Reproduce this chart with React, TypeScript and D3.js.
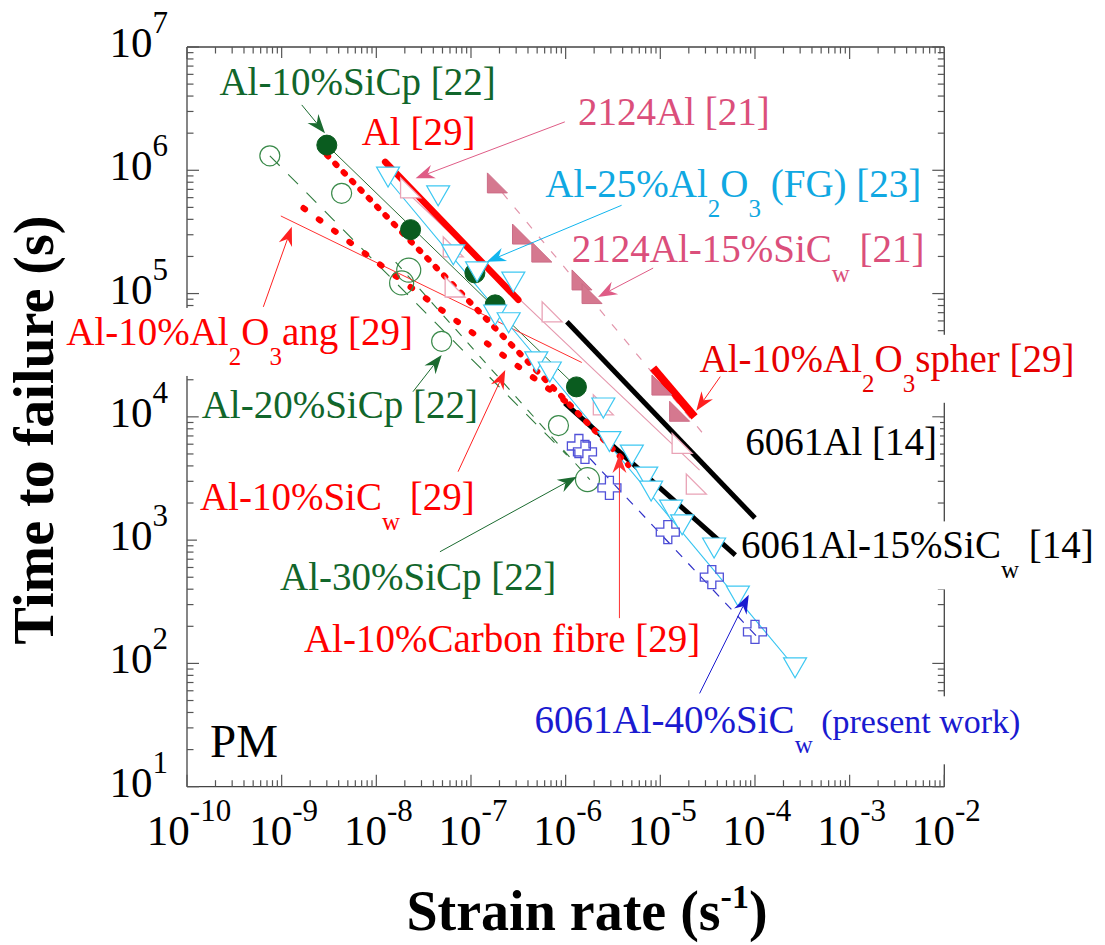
import React, { useEffect, useRef } from 'react'
import * as d3 from 'd3'

const FONT = '"Liberation Serif", "Times New Roman", Times, serif'

// strain rate (s^-1) / time to failure (s)
const sicp10Rate = [3.0e-9, 2.3e-8, 1.1e-7, 1.8e-7, 1.3e-6]
const sicp10Time = [1.6e6, 3.3e5, 1.47e5, 8.1e4, 1.75e4]

const sicp20Rate = [7.5e-10, 4.3e-9, 4.9e-8, 8.4e-7]
const sicp20Time = [1.31e6, 6.5e5, 4.1e4, 8.5e3]
const sicp20FitRate = [7.5e-10, 1.03e-6]
const sicp20FitTime = [1.31e6, 4.9e3]

const sicp30Rate = [2.2e-8, 1.85e-8, 1.7e-6]
const sicp30Time = [1.55e5, 1.22e5, 3.1e3]
const sicp30FitRate = [1.6e-8, 1.8e-6]
const sicp30FitTime = [1.8e5, 3.1e3]

const alFitRate = [1.24e-8, 3.16e-7]
const alFitTime = [1.17e6, 8.9e4]

const spherFitRate = [8.4e-6, 2.3e-5]
const spherFitTime = [2.49e4, 1.0e4]

const angFitRate = [9.8e-10, 1.48e-6]
const angFitTime = [4.26e5, 2.76e4]

const sicwFitRate = [1.7e-9, 1.06e-6]
const sicwFitTime = [4.94e5, 1.29e4]

const carbonFitRate = [3.0e-9, 4.6e-6]
const carbonFitTime = [1.33e6, 4.06e3]

const al6061FitRate = [1.03e-6, 1.0e-4]
const al6061FitTime = [5.9e4, 1.51e3]

const al6061SicFitRate = [9.8e-7, 6.2e-5]
const al6061SicFitTime = [1.29e4, 757]

const al2124Rate = [2.3e-8, 6.5e-8, 6.8e-8, 7.2e-7, 2.5e-6, 1.7e-5, 2.4e-5]
const al2124Time = [7.2e5, 2.39e5, 1.13e5, 7.1e4, 1.25e4, 6.1e3, 2.85e3]
const al2124FitRate = [2.0e-8, 2.6e-5]
const al2124FitTime = [6.9e5, 3.7e3]

const al2124SicRate = [1.9e-7, 3.5e-7, 5.6e-7, 1.49e-6, 1.9e-6, 1.04e-5, 1.6e-5]
const al2124SicTime = [7.9e5, 3.04e5, 2.17e5, 1.29e5, 1.0e5, 1.81e4, 1.11e4]
const al2124SicFitRate = [1.6e-7, 2.75e-5]
const al2124SicFitTime = [8.6e5, 7.5e3]

const fgRate = [1.33e-8, 4.5e-8, 6.5e-8, 1.16e-7, 2.8e-7, 1.8e-7, 2.5e-7, 4.9e-7, 6.8e-7, 2.5e-6,
  2.9e-6, 5.0e-6, 7.1e-6, 8.0e-6, 1.3e-5, 1.7e-5, 3.7e-5, 6.6e-5, 2.65e-4]
const fgTime = [8.8e5, 6.2e5, 2.06e5, 1.5e5, 1.24e5, 6.7e4, 5.8e4, 2.79e4, 2.31e4, 1.18e4,
  6.3e3, 4.9e3, 3.25e3, 2.5e3, 1.75e3, 1.33e3, 863, 352, 92]
const fgFitRate = [1.4e-8, 2.8e-4]
const fgFitTime = [8.0e5, 88]

const presentRate = [1.38e-6, 1.6e-6, 2.9e-6, 1.2e-5, 3.5e-5, 1.0e-4]
const presentTime = [5.8e3, 5.2e3, 2.65e3, 1.16e3, 502, 180]
const presentFitRate = [1.8e-6, 1.13e-4]
const presentFitTime = [4.6e3, 155]

const xDecades = [-10, -9, -8, -7, -6, -5, -4, -3, -2]
const yDecades = [1, 2, 3, 4, 5, 6, 7]

const GREEN = '#11662b'
const RED = '#ff0000'
const PINK = '#db4f7b'
const CYAN = '#10a8e2'
const BLUE = '#1a1ad0'

type Part = { t: string, sub?: boolean, size?: number }

// annotation text, anchored (left, baseline) in data units
const labels: { parts: Part[], rate: number, time: number, color: string, size?: number }[] = [
  { parts: [{ t: 'Al-10%SiCp [22]' }], rate: 2.2e-10, time: 4.08e6, color: GREEN },
  { parts: [{ t: 'Al [29]' }], rate: 7.0e-9, time: 1.6e6, color: RED },
  { parts: [{ t: '2124Al [21]' }], rate: 1.35e-6, time: 2.33e6, color: PINK },
  { parts: [{ t: 'Al-25%Al' }, { t: '2', sub: true }, { t: 'O' }, { t: '3', sub: true }, { t: ' (FG) [23]' }], rate: 6.1e-7, time: 6.1e5, color: CYAN },
  { parts: [{ t: '2124Al-15%SiC' }, { t: 'w', sub: true }, { t: ' [21]' }], rate: 1.16e-6, time: 1.81e5, color: PINK },
  { parts: [{ t: 'Al-10%Al' }, { t: '2', sub: true }, { t: 'O' }, { t: '3', sub: true }, { t: 'ang [29]' }], rate: 5.3e-12, time: 3.83e4, color: RED },
  { parts: [{ t: 'Al-10%Al' }, { t: '2', sub: true }, { t: 'O' }, { t: '3', sub: true }, { t: 'spher [29]' }], rate: 2.6e-5, time: 2.32e4, color: '#e60000' },
  { parts: [{ t: 'Al-20%SiCp [22]' }], rate: 1.43e-10, time: 9.7e3, color: GREEN },
  { parts: [{ t: 'Al-10%SiC' }, { t: 'w', sub: true }, { t: ' [29]' }], rate: 1.37e-10, time: 1.75e3, color: RED },
  { parts: [{ t: '6061Al [14]' }], rate: 7.9e-5, time: 4.93e3, color: '#000' },
  { parts: [{ t: '6061Al-15%SiC' }, { t: 'w', sub: true }, { t: ' [14]' }], rate: 7.1e-5, time: 711, color: '#000' },
  { parts: [{ t: 'Al-30%SiCp [22]' }], rate: 9.6e-10, time: 394, color: GREEN },
  { parts: [{ t: 'Al-10%Carbon fibre [29]' }], rate: 1.72e-9, time: 124, color: RED },
  { parts: [{ t: '6061Al-40%SiC' }, { t: 'w', sub: true }, { t: ' (present work)', size: 34 }], rate: 4.7e-7, time: 27.1, color: BLUE },
  { parts: [{ t: 'PM' }], rate: 1.75e-10, time: 17.5, color: '#000', size: 47 },
]

const arrows = [
  { from: [1.63e-9, 3.39e6], to: [2.87e-9, 2.0e6], color: '#1b6b30' },
  { from: [9.8e-7, 2.47e6], to: [2.6e-8, 8.6e5], color: '#df5c86' },
  { from: [3.9e-6, 5.2e5], to: [1.47e-7, 1.81e5], color: '#10b5ee' },
  { from: [8.4e-6, 1.61e5], to: [2.2e-6, 9.4e4], color: '#df5c86' },
  { from: [6.4e-10, 7.8e4], to: [1.28e-9, 3.48e5], color: '#ff2020' },
  { from: [4.3e-5, 2.12e4], to: [2.4e-5, 1.12e4], color: '#ff2020' },
  { from: [2.44e-8, 1.6e4], to: [4.9e-8, 3.18e4], color: '#1b6b30' },
  { from: [7.3e-8, 3.59e3], to: [2.3e-7, 2.4e4], color: '#ff2020' },
  { from: [4.7e-8, 805], to: [1.31e-6, 3.27e3], color: '#1b6b30' },
  { from: [3.7e-6, 233], to: [3.7e-6, 5.0e3], color: '#ff3030' },
  { from: [2.6e-5, 57.1], to: [8.6e-5, 361], color: BLUE },
]

const zip = (a: number[], b: number[]) => a.map((v, i) => [v, b[i]] as [number, number])

export default function App() {
  const svgRef = useRef<SVGSVGElement>(null)

  useEffect(() => {
    if (!svgRef.current) return
    const svg = d3.select(svgRef.current)
    svg.selectAll('*').remove()

    const left = 187, right = 944.3, top = 47, bottom = 786.7
    const x = d3.scaleLog().domain([1e-10, 1e-2]).range([left, right])
    const y = d3.scaleLog().domain([10, 1e7]).range([bottom, top])

    const axisG = svg.append('g')
    const bgG = svg.append('g')
    const dataG = svg.append('g')
    const arrowG = svg.append('g')
    const textG = svg.append('g')

    // frame
    const frame = [[left, top, right, top], [left, bottom, right, bottom], [left, top, left, bottom], [right, top, right, bottom]]
    frame.forEach(f => {
      axisG.append('line').attr('x1', f[0]).attr('y1', f[1]).attr('x2', f[2]).attr('y2', f[3])
        .attr('stroke', '#444').attr('stroke-width', 1.3)
    })

    // ticks
    const tick = (x1: number, y1: number, x2: number, y2: number) =>
      axisG.append('line').attr('x1', x1).attr('y1', y1).attr('x2', x2).attr('y2', y2)
        .attr('stroke', '#555').attr('stroke-width', 1.2)
    xDecades.forEach(e => {
      const ms = e === -2 ? [1] : d3.range(1, 10)
      ms.forEach(m => {
        const px = x(m * Math.pow(10, e))
        const len = m === 1 ? 12 : 6.5
        tick(px, bottom, px, bottom - len)
        tick(px, top, px, top + len)
      })
    })
    yDecades.forEach(e => {
      const ms = e === 7 ? [1] : d3.range(1, 10)
      ms.forEach(m => {
        const py = y(m * Math.pow(10, e))
        const len = m === 1 ? 12 : 6.5
        tick(left, py, left + len, py)
        tick(right, py, right - len, py)
      })
    })

    // tick labels
    xDecades.forEach(e => {
      const t = axisG.append('text').attr('x', x(Math.pow(10, e)) + 2).attr('y', 845)
        .attr('text-anchor', 'middle').style('font-family', FONT).attr('fill', '#000')
      t.append('tspan').style('font-size', '43px').text('10')
      t.append('tspan').attr('dy', -24).style('font-size', '31px').text(String(e))
    })
    yDecades.forEach(e => {
      const t = axisG.append('text').attr('x', 168).attr('y', y(Math.pow(10, e)) + 10)
        .attr('text-anchor', 'end').style('font-family', FONT).attr('fill', '#000')
      t.append('tspan').style('font-size', '43px').text('10')
      t.append('tspan').attr('dy', -24).style('font-size', '31px').text(String(e))
    })

    // axis titles
    const xt = axisG.append('text').attr('x', 587).attr('y', 930).attr('text-anchor', 'middle')
      .style('font-family', FONT).style('font-weight', 'bold').style('font-size', '56px')
    xt.append('tspan').text('Strain rate (s')
    xt.append('tspan').attr('dy', -22).style('font-size', '34px').text('-1')
    xt.append('tspan').attr('dy', 22).text(')')

    axisG.append('text').attr('transform', 'translate(53,430) rotate(-90)').attr('text-anchor', 'middle')
      .style('font-family', FONT).style('font-weight', 'bold').style('font-size', '56px')
      .text('Time to failure (s)')

    // lines
    const line = d3.line<[number, number]>().x(d => x(d[0])).y(d => y(d[1]))
    const fit = (r: number[], t: number[], color: string, w: number, dash?: string, cap = 'butt') => {
      const p = dataG.append('path').attr('d', line(zip(r, t)))
        .attr('fill', 'none').attr('stroke', color).attr('stroke-width', w).attr('stroke-linecap', cap)
      if (dash) p.attr('stroke-dasharray', dash)
    }

    fit(sicp10Rate.slice(0, 1).concat(sicp10Rate.slice(-1)), sicp10Time.slice(0, 1).concat(sicp10Time.slice(-1)), '#2b6e35', 1)
    fit(sicp20FitRate, sicp20FitTime, '#2e7a3c', 1.1, '14,12')
    fit(sicp30FitRate, sicp30FitTime, '#2e7a3c', 1.1, '9,9')
    fit(angFitRate, angFitTime, '#ff3030', 1)
    fit(al2124FitRate, al2124FitTime, '#e597ad', 1.1)
    fit(al2124SicFitRate, al2124SicFitTime, '#e294aa', 1.2, '8,11')
    fit(fgFitRate, fgFitTime, '#33c3f0', 1.1)
    fit(presentFitRate, presentFitTime, '#3030c8', 1.2, '9,9')
    fit(al6061FitRate, al6061FitTime, '#000', 5)
    fit(al6061SicFitRate, al6061SicFitTime, '#000', 5)
    fit(alFitRate, alFitTime, RED, 6.5, undefined, 'round')
    fit(spherFitRate, spherFitTime, RED, 8)
    fit(carbonFitRate, carbonFitTime, RED, 6, '2,10', 'round')
    fit(sicwFitRate, sicwFitTime, RED, 6, '2,17', 'round')

    // markers
    zip(sicp20Rate, sicp20Time).forEach(d => {
      dataG.append('circle').attr('cx', x(d[0])).attr('cy', y(d[1])).attr('r', 10)
        .attr('fill', 'none').attr('stroke', '#3a8a4a').attr('stroke-width', 1.2)
    })
    zip(sicp30Rate, sicp30Time).forEach(d => {
      dataG.append('circle').attr('cx', x(d[0])).attr('cy', y(d[1])).attr('r', 12)
        .attr('fill', 'none').attr('stroke', '#3a8a4a').attr('stroke-width', 1.2)
    })
    zip(sicp10Rate, sicp10Time).forEach(d => {
      dataG.append('circle').attr('cx', x(d[0])).attr('cy', y(d[1])).attr('r', 10)
        .attr('fill', '#0a5c1f').attr('stroke', '#0a5c1f')
    })

    const rightTri = (cx: number, cy: number, s: number) =>
      `M${cx - s / 2},${cy - s / 2}L${cx - s / 2},${cy + s / 2}L${cx + s / 2},${cy + s / 2}Z`
    zip(al2124Rate, al2124Time).forEach(d => {
      dataG.append('path').attr('d', rightTri(x(d[0]), y(d[1]), 20))
        .attr('fill', '#fff').attr('stroke', '#e9a3b6').attr('stroke-width', 1.3)
    })
    zip(al2124SicRate, al2124SicTime).forEach(d => {
      dataG.append('path').attr('d', rightTri(x(d[0]), y(d[1]), 20))
        .attr('fill', '#d5788f').attr('stroke', '#cc6c86').attr('stroke-width', 1)
    })

    zip(fgRate, fgTime).forEach(d => {
      const cx = x(d[0]), cy = y(d[1])
      dataG.append('path').attr('d', `M${cx - 11.5},${cy - 10}L${cx + 11.5},${cy - 10}L${cx},${cy + 10}Z`)
        .attr('fill', '#fff').attr('stroke', '#3ec8f2').attr('stroke-width', 1.2)
    })

    const cross = (cx: number, cy: number) => {
      const s = 11.5, a = 4
      const pts = [[-a, -s], [a, -s], [a, -a], [s, -a], [s, a], [a, a], [a, s], [-a, s], [-a, a], [-s, a], [-s, -a], [-a, -a]]
      return 'M' + pts.map(p => `${cx + p[0]},${cy + p[1]}`).join('L') + 'Z'
    }
    zip(presentRate, presentTime).forEach(d => {
      dataG.append('path').attr('d', cross(x(d[0]), y(d[1])))
        .attr('fill', 'none').attr('stroke', '#5050d8').attr('stroke-width', 1.3)
    })

    // arrows
    arrows.forEach(a => {
      const x1 = x(a.from[0]), y1 = y(a.from[1]), x2 = x(a.to[0]), y2 = y(a.to[1])
      const dx = x2 - x1, dy = y2 - y1, len = Math.hypot(dx, dy)
      const ux = dx / len, uy = dy / len
      const L = 19, Wd = 7
      const bx = x2 - ux * L, by = y2 - uy * L
      const nx = x2 - ux * L * 0.68, ny = y2 - uy * L * 0.68
      arrowG.append('line').attr('x1', x1).attr('y1', y1).attr('x2', nx).attr('y2', ny)
        .attr('stroke', a.color).attr('stroke-width', 1)
      arrowG.append('path')
        .attr('d', `M${x2},${y2}L${bx - uy * Wd},${by + ux * Wd}L${nx},${ny}L${bx + uy * Wd},${by - ux * Wd}Z`)
        .attr('fill', a.color)
    })

    // annotation labels with white boxes behind
    labels.forEach(l => {
      const base = l.size ?? 39
      const t = textG.append('text').attr('x', x(l.rate)).attr('y', y(l.time))
        .attr('fill', l.color).style('font-family', FONT).style('font-size', `${base}px`)
        .style('white-space', 'pre')
      let shift = 0
      l.parts.forEach(p => {
        const target = p.sub ? 20 : 0
        t.append('tspan').attr('dy', target - shift)
          .style('font-size', `${p.sub ? 25 : (p.size ?? base)}px`).text(p.t)
        shift = target
      })
      const bb = (t.node() as SVGTextElement).getBBox()
      bgG.append('rect').attr('x', bb.x - 3).attr('y', bb.y - 2)
        .attr('width', bb.width + 6).attr('height', bb.height + 8).attr('fill', '#fff')
    })
  }, [])

  return (
    <svg ref={svgRef} width={1105} height={945}
      style={{ position: 'absolute', left: 0, top: 0, background: '#fff' }} />
  )
}
